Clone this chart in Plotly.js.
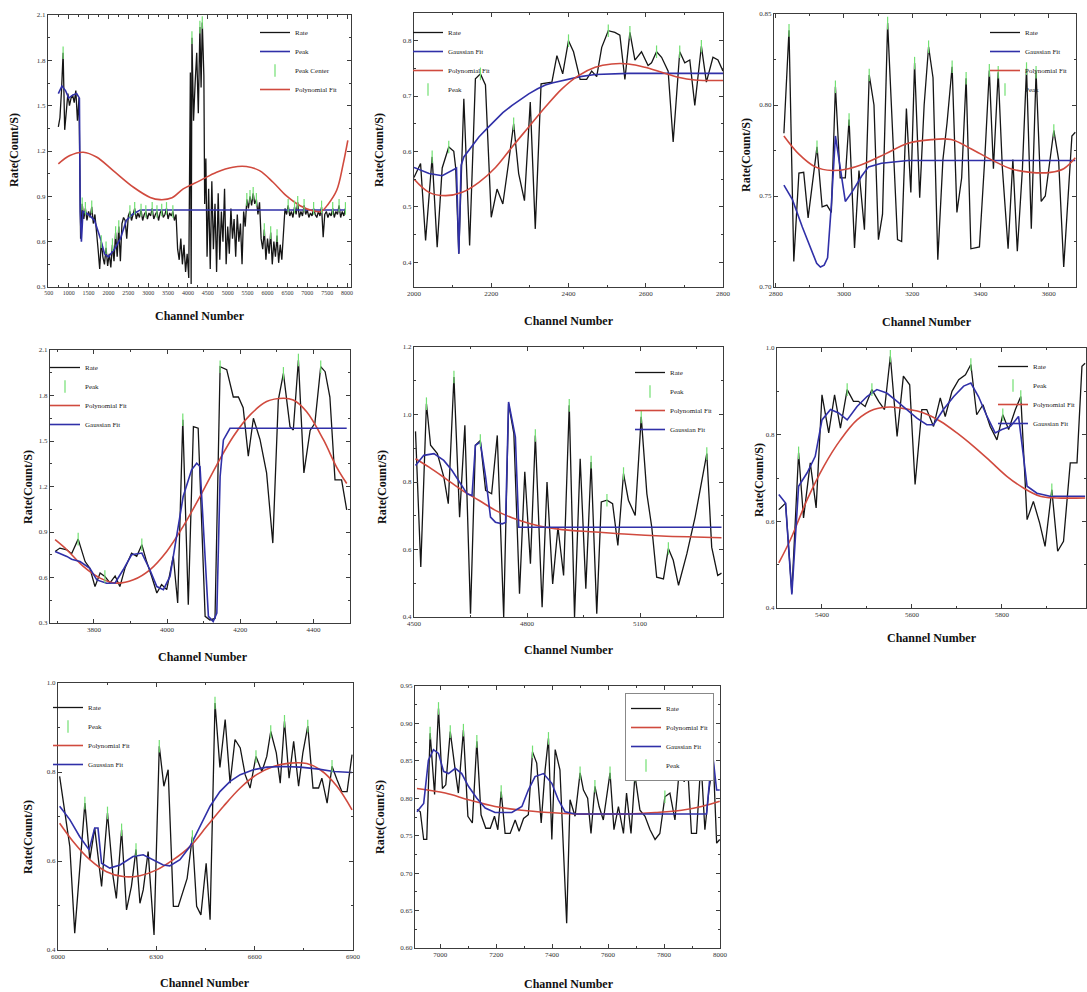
<!DOCTYPE html>
<html><head><meta charset="utf-8">
<script src="https://cdn.plot.ly/plotly-3.0.1.min.js"></script>
<style>html,body{margin:0;padding:0;background:#fff}#chart{width:1087px;height:992px}</style>
</head><body><div id="chart"></div>
<script>
// ---------- Panel 1 ----------
const p1Ch=[740,780,820,860,900,940,980,1020,1060,1100,
1140,1180,1220,1260,1300,1340,1380,1420,1460,1500,
1540,1580,1620,1660,1700,1740,1780,1820,1860,1900,
1940,1980,2020,2060,2100,2140,2180,2220,2260,2300,
2340,2380,2420,2460,2500,2540,2580,2620,2660,2700,
2740,2780,2820,2860,2900,2940,2980,3020,3060,3100,
3140,3180,3220,3260,3300,3340,3380,3420,3460,3500,
3540,3580,3620,3660,3700,3740,3780,3820,3860,3900,
3940,3980,4020,4060,4080,4100,4140,4180,4220,4260,
4300,4330,4360,4400,4420,4450,4480,4520,4560,4600,
4640,4680,4720,4760,4800,4840,4880,4920,4960,5000,
5040,5080,5120,5160,5200,5240,5280,5320,5360,5400,
5440,5480,5520,5560,5600,5640,5680,5720,5760,5800,
5840,5880,5920,5960,6000,6040,6080,6120,6160,6200,
6240,6280,6320,6360,6400,6440,6480,6520,6560,6600,
6640,6680,6720,6760,6800,6840,6880,6920,6960,7000,
7040,7080,7120,7160,7200,7240,7280,7320,7360,7400,
7440,7480,7520,7560,7600,7640,7680,7720,7760,7800,
7840,7880,7920,7960];
const p1Rate=[1.36,1.42,1.60,1.85,1.34,1.48,1.58,1.50,1.55,1.57,
1.52,1.60,1.40,1.55,0.62,0.85,0.75,0.82,0.74,0.80,
0.76,0.83,0.72,0.78,0.68,0.55,0.42,0.60,0.50,0.45,
0.56,0.44,0.52,0.43,0.58,0.47,0.66,0.50,0.70,0.47,
0.72,0.76,0.74,0.62,0.77,0.80,0.74,0.78,0.82,0.75,
0.79,0.76,0.81,0.74,0.78,0.80,0.75,0.79,0.77,0.82,
0.75,0.78,0.80,0.74,0.79,0.81,0.76,0.78,0.82,0.75,
0.79,0.77,0.80,0.74,0.78,0.55,0.48,0.62,0.45,0.58,
0.40,0.52,0.36,1.72,0.32,1.95,1.40,1.65,1.85,1.45,
2.02,1.62,2.05,1.70,0.85,1.15,0.50,0.95,0.42,1.00,
0.55,0.85,0.40,0.92,0.48,0.80,0.60,0.95,0.45,0.70,
0.52,0.82,0.62,0.75,0.50,0.78,0.60,0.72,0.45,0.80,
0.70,0.88,0.82,0.90,0.84,0.92,0.85,0.88,0.78,0.86,
0.62,0.55,0.68,0.48,0.62,0.52,0.66,0.45,0.60,0.50,
0.64,0.46,0.58,0.48,0.62,0.82,0.78,0.84,0.77,0.80,
0.76,0.83,0.78,0.86,0.76,0.80,0.77,0.84,0.78,0.81,
0.76,0.79,0.77,0.82,0.78,0.76,0.80,0.77,0.83,0.63,
0.78,0.80,0.76,0.79,0.77,0.82,0.76,0.80,0.78,0.84,
0.76,0.80,0.77,0.82];
const p1PeakLineCh=[740,830,920,1000,1100,1200,1270,1290,1320,1360,1500,1650,1800,1900,2000,2150,2300,2450,2600,2800,7960];
const p1PeakLine=[1.58,1.63,1.60,1.55,1.57,1.58,1.55,0.80,0.60,0.80,0.78,0.74,0.62,0.52,0.50,0.55,0.62,0.74,0.78,0.81,0.81];
const p1PolyCh=[740,1030,1370,1700,2120,2630,3050,3300,3600,3880,4300,4720,5130,5470,5800,6140,6470,6820,7140,7350,7530,7740,7900,8020];
const p1Poly=[1.115,1.17,1.192,1.16,1.07,0.96,0.893,0.878,0.89,0.949,1.004,1.06,1.093,1.097,1.07,0.993,0.904,0.838,0.805,0.80,0.85,0.94,1.11,1.27];
const p1CenterCh=[860,1340,1420,1580,1820,1940,2100,2180,2260,2540,2660,2820,2940,3100,3220,3340,3460,3620,4100,4300,4360,5480,5560,5640,5720,5920,6080,6240,6520,6680,6760,6920,7160,7360,7640,7800,7960];
const p1Center=[1.85,0.85,0.82,0.83,0.60,0.56,0.58,0.66,0.70,0.80,0.82,0.81,0.80,0.82,0.80,0.81,0.82,0.80,1.95,2.02,2.05,0.88,0.90,0.92,0.88,0.68,0.66,0.64,0.84,0.83,0.86,0.84,0.82,0.83,0.82,0.84,0.82];

// ---------- Panel 2 ----------
const p2Ch=[2000,2017,2030,2047,2060,2073,2090,2103,2108,2116,2129,2144,2159,2172,2185,2200,2215,2230,2245,2258,2271,2286,2301,2314,2329,2357,2370,2385,2400,2413,2430,2447,2460,2473,2486,2503,2520,2533,2546,2559,2572,2589,2606,2615,2628,2641,2658,2671,2688,2701,2714,2727,2744,2757,2774,2787,2800];
const p2Rate=[0.553,0.578,0.439,0.59,0.427,0.57,0.608,0.60,0.57,0.415,0.695,0.43,0.731,0.74,0.72,0.481,0.532,0.505,0.58,0.65,0.56,0.511,0.689,0.46,0.722,0.725,0.773,0.74,0.80,0.78,0.73,0.73,0.745,0.735,0.788,0.818,0.815,0.81,0.73,0.815,0.765,0.78,0.755,0.76,0.78,0.77,0.745,0.617,0.78,0.76,0.765,0.683,0.79,0.725,0.77,0.765,0.745];
const p2GaussCh=[2000,2039,2073,2103,2110,2116,2122,2129,2150,2168,2190,2211,2230,2254,2275,2297,2320,2340,2360,2400,2430,2469,2510,2555,2641,2800];
const p2Gauss=[0.571,0.56,0.556,0.568,0.57,0.415,0.575,0.59,0.61,0.626,0.642,0.656,0.67,0.683,0.694,0.704,0.713,0.72,0.724,0.731,0.735,0.739,0.74,0.741,0.741,0.741];
const p2PolyCh=[2000,2039,2082,2125,2168,2211,2254,2297,2340,2383,2426,2469,2512,2555,2598,2641,2684,2727,2800];
const p2Poly=[0.55,0.526,0.52,0.526,0.544,0.571,0.608,0.644,0.68,0.713,0.737,0.752,0.758,0.758,0.752,0.743,0.734,0.729,0.728];
const p2PeakCh=[2047,2090,2172,2258,2400,2503,2559,2628,2688,2744];
const p2Peak=[0.59,0.608,0.74,0.65,0.80,0.818,0.815,0.78,0.78,0.79];

// ---------- Panel 3 ----------
const p3Ch=[2824,2839,2853,2868,2882,2895,2921,2936,2950,2963,2975,2989,3004,3015,3031,3044,3060,3074,3088,3101,3113,3128,3157,3169,3183,3196,3207,3222,3235,3248,3261,3275,3290,3302,3317,3331,3345,3358,3372,3397,3413,3426,3438,3452,3464,3481,3495,3508,3523,3535,3549,3563,3578,3590,3615,3629,3644,3668,3678];
const p3Rate=[0.7845,0.841,0.714,0.7626,0.763,0.738,0.777,0.744,0.745,0.741,0.81,0.76,0.76,0.792,0.7214,0.764,0.7315,0.8165,0.80,0.726,0.74,0.845,0.726,0.725,0.798,0.752,0.823,0.749,0.80,0.832,0.815,0.715,0.77,0.79,0.821,0.741,0.76,0.8147,0.721,0.722,0.7717,0.819,0.765,0.818,0.766,0.721,0.77,0.7196,0.765,0.82,0.732,0.818,0.747,0.75,0.786,0.77,0.711,0.783,0.785];
const p3GaussCh=[2824,2849,2878,2900,2920,2931,2942,2952,2963,2975,2989,3004,3023,3052,3072,3110,3188,3678];
const p3Gauss=[0.756,0.748,0.733,0.722,0.713,0.711,0.712,0.716,0.745,0.783,0.765,0.747,0.752,0.761,0.766,0.768,0.7695,0.7695];
const p3PolyCh=[2824,2868,2916,2965,3013,3062,3120,3188,3256,3314,3372,3431,3489,3547,3605,3644,3678];
const p3Poly=[0.783,0.773,0.766,0.764,0.765,0.768,0.773,0.779,0.781,0.781,0.776,0.77,0.765,0.763,0.763,0.765,0.771];
const p3PeakCh=[2839,2921,2975,3015,3074,3128,3207,3248,3317,3358,3426,3452,3535,3563,3615];
const p3Peak=[0.841,0.777,0.81,0.792,0.8165,0.845,0.823,0.832,0.821,0.8147,0.819,0.818,0.82,0.818,0.786];

// ---------- Panel 4 ----------
const p4Ch=[3694,3707,3726,3739,3757,3776,3789,3803,3817,3830,3844,3858,3871,3885,3903,3917,3931,3944,3958,3972,3985,3999,4017,4029,4043,4058,4072,4085,4104,4117,4131,4145,4163,4181,4195,4208,4222,4236,4254,4272,4289,4304,4318,4336,4345,4359,4374,4391,4404,4420,4432,4445,4459,4477,4491];
const p4Rate=[0.772,0.794,0.783,0.757,0.853,0.705,0.66,0.54,0.63,0.607,0.564,0.61,0.54,0.662,0.76,0.74,0.816,0.705,0.607,0.498,0.553,0.52,0.74,0.432,1.64,0.42,1.595,1.584,0.344,0.32,0.33,1.99,1.97,1.79,1.79,1.72,1.40,1.65,1.51,1.29,0.827,1.77,1.946,1.595,1.573,2.034,1.29,1.57,1.617,1.99,1.957,1.79,1.244,1.244,1.046];
const p4GaussCh=[3694,3726,3739,3762,3789,3808,3835,3858,3880,3903,3931,3953,3972,3990,4008,4022,4044,4067,4081,4090,4104,4113,4126,4136,4145,4154,4172,4491];
const p4Gauss=[0.772,0.739,0.72,0.705,0.66,0.584,0.562,0.564,0.651,0.75,0.761,0.651,0.54,0.52,0.607,0.805,1.134,1.31,1.354,1.332,0.70,0.344,0.31,0.366,1.266,1.507,1.584,1.584];
const p4PolyCh=[3694,3726,3771,3817,3862,3908,3953,3999,4044,4090,4136,4181,4227,4272,4318,4345,4381,4427,4463,4491];
const p4Poly=[0.849,0.783,0.673,0.596,0.563,0.585,0.651,0.772,0.937,1.134,1.343,1.53,1.672,1.76,1.782,1.77,1.694,1.51,1.33,1.22];
const p4PeakCh=[3757,3830,3931,4043,4145,4318,4359,4420];
const p4Peak=[0.853,0.607,0.816,1.64,1.99,1.946,2.034,1.99];

// ---------- Panel 5 ----------
const p5Ch=[4504,4518,4533,4544,4562,4579,4591,4606,4621,4635,4650,4663,4676,4690,4706,4721,4738,4751,4765,4780,4794,4809,4822,4840,4853,4868,4882,4897,4912,4926,4941,4956,4970,4985,4997,5012,5027,5041,5056,5069,5087,5103,5118,5131,5144,5162,5175,5188,5202,5224,5246,5277,5290,5306,5316];
const p5Rate=[0.95,0.548,1.032,0.909,0.884,0.815,0.736,1.111,0.696,0.968,0.41,0.909,0.923,0.775,0.765,0.938,0.40,1.032,0.943,0.469,0.83,0.558,0.938,0.429,0.80,0.498,0.666,0.523,1.027,0.40,0.869,0.484,0.859,0.41,0.741,0.746,0.736,0.612,0.825,0.746,0.701,0.993,0.765,0.666,0.518,0.513,0.603,0.568,0.494,0.587,0.696,0.884,0.607,0.523,0.53];
const p5GaussCh=[4504,4526,4553,4579,4601,4624,4641,4654,4663,4676,4690,4703,4716,4734,4743,4751,4769,4778,4787,5316];
const p5Gauss=[0.849,0.879,0.884,0.864,0.834,0.795,0.765,0.76,0.909,0.918,0.815,0.696,0.681,0.676,0.68,1.037,0.933,0.666,0.666,0.666];
const p5PolyCh=[4504,4540,4584,4628,4672,4716,4760,4804,4849,4893,4981,5069,5157,5246,5316];
const p5Poly=[0.869,0.844,0.81,0.775,0.746,0.716,0.694,0.678,0.666,0.659,0.652,0.645,0.64,0.637,0.635];
const p5PeakCh=[4533,4606,4676,4822,4912,4970,5012,5056,5103,5175,5277];
const p5Peak=[1.032,1.111,0.923,0.938,1.027,0.859,0.746,0.825,0.993,0.603,0.884];

// ---------- Panel 6 ----------
const p6Ch=[5304,5311,5319,5333,5348,5359,5374,5387,5400,5415,5428,5441,5456,5470,5481,5496,5511,5526,5539,5552,5567,5581,5595,5607,5622,5633,5648,5663,5674,5689,5704,5719,5731,5744,5758,5774,5789,5802,5815,5830,5842,5856,5870,5884,5896,5911,5924,5937,5952,5967,5978,5985];
const p6Rate=[0.627,0.635,0.642,0.435,0.758,0.608,0.735,0.631,0.892,0.804,0.892,0.815,0.904,0.877,0.877,0.865,0.904,0.877,0.858,0.981,0.796,0.935,0.915,0.685,0.858,0.858,0.819,0.885,0.842,0.90,0.927,0.938,0.962,0.846,0.869,0.819,0.788,0.846,0.812,0.858,0.888,0.604,0.646,0.596,0.542,0.673,0.531,0.554,0.735,0.735,0.958,0.965];
const p6GaussCh=[5304,5319,5333,5348,5367,5385,5400,5419,5437,5456,5478,5500,5522,5544,5567,5589,5611,5633,5648,5670,5693,5715,5731,5748,5767,5785,5800,5819,5837,5848,5856,5878,5907,5985];
const p6Gauss=[0.662,0.642,0.431,0.681,0.712,0.75,0.834,0.858,0.85,0.834,0.865,0.888,0.904,0.896,0.877,0.858,0.838,0.823,0.823,0.858,0.888,0.912,0.919,0.888,0.842,0.804,0.812,0.819,0.842,0.75,0.681,0.665,0.658,0.658];
const p6PolyCh=[5304,5330,5367,5404,5441,5478,5515,5552,5589,5626,5663,5700,5737,5774,5811,5848,5885,5922,5985];
const p6Poly=[0.504,0.558,0.65,0.727,0.788,0.834,0.858,0.864,0.859,0.85,0.831,0.804,0.773,0.739,0.704,0.677,0.658,0.654,0.654];
const p6PeakCh=[5348,5456,5511,5552,5731,5802,5842,5911];
const p6Peak=[0.758,0.904,0.904,0.981,0.962,0.846,0.888,0.673];

// ---------- Panel 7 ----------
const p7Ch=[6005,6020,6036,6051,6066,6082,6097,6112,6133,6151,6168,6178,6194,6209,6224,6238,6250,6260,6275,6293,6309,6323,6336,6352,6367,6382,6394,6410,6423,6436,6452,6464,6479,6494,6510,6525,6540,6556,6571,6586,6604,6622,6637,6649,6666,6678,6691,6705,6719,6734,6747,6762,6778,6795,6805,6821,6836,6851,6866,6882,6897];
const p7Rate=[0.79,0.715,0.633,0.438,0.573,0.73,0.603,0.674,0.543,0.708,0.565,0.516,0.67,0.49,0.543,0.626,0.505,0.535,0.621,0.434,0.858,0.768,0.805,0.498,0.498,0.535,0.561,0.655,0.498,0.479,0.595,0.468,0.955,0.81,0.918,0.775,0.873,0.854,0.794,0.764,0.835,0.801,0.835,0.891,0.843,0.775,0.914,0.786,0.869,0.768,0.843,0.903,0.764,0.764,0.786,0.73,0.813,0.783,0.756,0.756,0.839];
const p7GaussCh=[6005,6036,6066,6095,6112,6122,6133,6158,6189,6229,6260,6291,6321,6341,6372,6403,6433,6464,6494,6525,6556,6596,6637,6688,6739,6790,6841,6897];
const p7Gauss=[0.723,0.693,0.655,0.625,0.674,0.674,0.595,0.584,0.591,0.61,0.614,0.603,0.591,0.589,0.603,0.633,0.678,0.723,0.756,0.779,0.794,0.805,0.811,0.8125,0.811,0.807,0.801,0.799];
const p7PolyCh=[6005,6046,6097,6148,6199,6250,6301,6352,6403,6454,6505,6556,6606,6657,6708,6759,6800,6851,6897];
const p7Poly=[0.685,0.644,0.603,0.576,0.565,0.567,0.58,0.603,0.633,0.678,0.723,0.764,0.794,0.8125,0.82,0.819,0.805,0.768,0.715];
const p7PeakCh=[6082,6151,6194,6238,6309,6410,6479,6604,6649,6691,6762,6836];
const p7Peak=[0.73,0.708,0.67,0.626,0.858,0.655,0.955,0.835,0.891,0.914,0.903,0.813];

// ---------- Panel 8 ----------
const p8Ch=[6917,6929,6941,6952,6964,6980,6994,7008,7020,7036,7056,7065,7083,7099,7115,7131,7146,7163,7179,7194,7206,7218,7232,7250,7268,7282,7298,7315,7330,7345,7361,7375,7387,7399,7411,7428,7452,7464,7482,7500,7512,7527,7539,7553,7568,7583,7607,7621,7637,7655,7666,7682,7696,7714,7732,7750,7768,7785,7803,7821,7839,7857,7872,7884,7898,7916,7932,7946,7960,7976,7988,7999];
const p8Rate=[0.785,0.782,0.745,0.745,0.887,0.805,0.92,0.813,0.818,0.889,0.831,0.807,0.891,0.776,0.767,0.876,0.778,0.76,0.76,0.776,0.758,0.809,0.753,0.753,0.771,0.756,0.773,0.778,0.862,0.847,0.767,0.838,0.88,0.745,0.865,0.838,0.633,0.798,0.776,0.834,0.811,0.80,0.753,0.816,0.789,0.771,0.834,0.758,0.789,0.753,0.807,0.753,0.831,0.784,0.776,0.758,0.745,0.753,0.802,0.807,0.771,0.849,0.822,0.845,0.753,0.753,0.851,0.758,0.809,0.851,0.74,0.745];
const p8GaussCh=[6917,6941,6958,6976,6994,7012,7030,7054,7077,7101,7131,7161,7196,7256,7292,7315,7339,7369,7399,7422,7446,7482,7553,7952,7964,7976,7988,7999];
const p8Gauss=[0.782,0.793,0.851,0.865,0.86,0.836,0.833,0.84,0.833,0.816,0.80,0.787,0.781,0.781,0.789,0.811,0.829,0.833,0.82,0.798,0.782,0.779,0.779,0.779,0.829,0.851,0.811,0.811];
const p8PolyCh=[6917,7018,7101,7196,7292,7387,7482,7577,7672,7768,7863,7934,7999];
const p8Poly=[0.813,0.807,0.798,0.789,0.784,0.781,0.779,0.779,0.779,0.781,0.784,0.789,0.796];
const p8PeakCh=[6964,6994,7036,7083,7131,7218,7330,7387,7500,7553,7607,7696,7803,7857,7932];
const p8Peak=[0.887,0.92,0.889,0.891,0.876,0.809,0.862,0.88,0.834,0.816,0.834,0.831,0.802,0.849,0.851];

// ---------- labels ----------
const yTitle='Rate(Count/S)';
const xTitle='Channel Number';

// ---------- layout config ----------
const W=1087,H=992;
const FONT='"Liberation Serif","Times New Roman",serif';
const COL={rate:'#151515',gauss:'#3030a8',poly:'#d04a3e',peak:'#72e072'};

function S(name,x,y,kind,rank,shape){return {name,x,y,kind,rank,shape:shape||'linear'};}

const panels=[
 {box:[48,351,15,287],xr:[480,8100],xt0:500,xdt:500,xmin:250,yr:[0.3,2.1],yt0:0.3,ydt:0.3,ymin:0.15,yfmt:'.1f',xfs:6,
  yt:[14,150],xt:[200,316],leg:[255,18],
  series:[S('Rate',p1Ch,p1Rate,'rate',1),S('Peak',p1PeakLineCh,p1PeakLine,'gauss',2),S('Polynomial Fit',p1PolyCh,p1Poly,'poly',4,'spline'),S('Peak Center',p1CenterCh,p1Center,'peak',3)]},
 {box:[414,723,13,287],xr:[2000,2800],xt0:2000,xdt:200,xmin:100,yr:[0.355,0.85],yt0:0.4,ydt:0.1,ymin:0.05,yfmt:'.1f',xfs:7,
  yt:[379,150],xt:[569,321],leg:[408,18],
  series:[S('Rate',p2Ch,p2Rate,'rate',1),S('Gaussian Fit',p2GaussCh,p2Gauss,'gauss',2),S('Polynomial Fit',p2PolyCh,p2Poly,'poly',3,'spline'),S('Peak',p2PeakCh,p2Peak,'peak',4)]},
 {box:[774,1076,14,287],xr:[2795,3680],xt0:2800,xdt:200,xmin:100,yr:[0.70,0.85],yt0:0.70,ydt:0.05,ymin:0.025,yfmt:'.2f',xfs:7,
  yt:[746,155],xt:[927,322],leg:[985,18],
  series:[S('Rate',p3Ch,p3Rate,'rate',1),S('Gaussian Fit',p3GaussCh,p3Gauss,'gauss',2),S('Polynomial Fit',p3PolyCh,p3Poly,'poly',3,'spline'),S('Peak',p3PeakCh,p3Peak,'peak',4)]},
 {box:[50,350,350,623],xr:[3680,4500],xt0:3800,xdt:200,xmin:100,yr:[0.3,2.1],yt0:0.3,ydt:0.3,ymin:0.15,yfmt:'.1f',xfs:7,
  yt:[28,487],xt:[203,657],leg:[45,353],
  series:[S('Rate',p4Ch,p4Rate,'rate',1),S('Polynomial Fit',p4PolyCh,p4Poly,'poly',3,'spline'),S('Gaussian Fit',p4GaussCh,p4Gauss,'gauss',4),S('Peak',p4PeakCh,p4Peak,'peak',2)]},
 {box:[414,723,347,617],xr:[4500,5320],xt0:4500,xdt:300,xmin:150,yr:[0.4,1.2],yt0:0.4,ydt:0.2,ymin:0.1,yfmt:'.1f',xfs:7,
  yt:[382,487],xt:[569,650],leg:[630,358],
  series:[S('Rate',p5Ch,p5Rate,'rate',1),S('Polynomial Fit',p5PolyCh,p5Poly,'poly',3,'spline'),S('Gaussian Fit',p5GaussCh,p5Gauss,'gauss',4),S('Peak',p5PeakCh,p5Peak,'peak',2)]},
 {box:[777,1086,348,608],xr:[5300,5987],xt0:5400,xdt:200,xmin:100,yr:[0.4,1.0],yt0:0.4,ydt:0.2,ymin:0.1,yfmt:'.1f',xfs:7,
  yt:[759,480],xt:[932,638],leg:[993,352],
  series:[S('Rate',p6Ch,p6Rate,'rate',1),S('Polynomial Fit',p6PolyCh,p6Poly,'poly',3,'spline'),S('Gaussian Fit',p6GaussCh,p6Gauss,'gauss',4),S('Peak',p6PeakCh,p6Peak,'peak',2)]},
 {box:[58,353,683,950],xr:[6000,6900],xt0:6000,xdt:300,xmin:150,yr:[0.4,1.0],yt0:0.4,ydt:0.2,ymin:0.1,yfmt:'.1f',xfs:7,
  yt:[28,837],xt:[205,983],leg:[48,693],
  series:[S('Rate',p7Ch,p7Rate,'rate',1),S('Polynomial Fit',p7PolyCh,p7Poly,'poly',3,'spline'),S('Gaussian Fit',p7GaussCh,p7Gauss,'gauss',4),S('Peak',p7PeakCh,p7Peak,'peak',2)]},
 {box:[415,720,686,948],xr:[6910,8000],xt0:7000,xdt:200,xmin:100,yr:[0.60,0.95],yt0:0.60,ydt:0.05,ymin:0.025,yfmt:'.2f',xfs:7,
  yt:[380,817],xt:[569,984],leg:[625,693],border:true,
  series:[S('Rate',p8Ch,p8Rate,'rate',1),S('Polynomial Fit',p8PolyCh,p8Poly,'poly',2,'spline'),S('Gaussian Fit',p8GaussCh,p8Gauss,'gauss',3),S('Peak',p8PeakCh,p8Peak,'peak',4)]}
];

const traces=[];
const layout={width:W,height:H,margin:{l:0,r:0,t:0,b:0},paper_bgcolor:'#fff',plot_bgcolor:'#fff',
  font:{family:FONT,color:'#222'},showlegend:true,annotations:[]};

panels.forEach((p,i)=>{
  const n=i+1, suf=(n===1?'':String(n));
  const xid='x'+suf, yid='y'+suf, legId='legend'+suf;
  const [l,r,t,b]=p.box;
  const base={showline:true,linecolor:'#3c3c3c',linewidth:1,mirror:'ticks',ticks:'inside',ticklen:4,
    tickcolor:'#3c3c3c',showgrid:false,zeroline:false,tickangle:0,fixedrange:true};
  layout['xaxis'+suf]=Object.assign({},base,{domain:[l/W,r/W],anchor:yid,range:p.xr,tick0:p.xt0,dtick:p.xdt,
    tickfont:{family:FONT,size:p.xfs,color:'#333'},
    minor:{dtick:p.xmin,ticks:'inside',ticklen:2,tickcolor:'#3c3c3c'}});
  layout['yaxis'+suf]=Object.assign({},base,{domain:[1-b/H,1-t/H],anchor:xid,range:p.yr,tick0:p.yt0,dtick:p.ydt,
    tickformat:p.yfmt,tickfont:{family:FONT,size:7,color:'#333'},
    minor:{dtick:p.ymin,ticks:'inside',ticklen:2,tickcolor:'#3c3c3c'}});
  layout[legId]={x:p.leg[0]/W,y:1-p.leg[1]/H,xanchor:'left',yanchor:'top',
    bgcolor:p.border?'#fff':'rgba(0,0,0,0)',bordercolor:'#888',borderwidth:p.border?1:0,
    font:{family:FONT,size:7,color:'#222'},itemwidth:30,tracegroupgap:0,traceorder:'normal'};
  layout.annotations.push({xref:'paper',yref:'paper',x:p.yt[0]/W,y:1-p.yt[1]/H,text:'<b>'+yTitle+'</b>',
    textangle:-90,showarrow:false,font:{family:FONT,size:12,color:'#111'},xanchor:'center',yanchor:'middle'});
  layout.annotations.push({xref:'paper',yref:'paper',x:p.xt[0]/W,y:1-p.xt[1]/H,text:'<b>'+xTitle+'</b>',
    showarrow:false,font:{family:FONT,size:12,color:'#111'},xanchor:'center',yanchor:'middle'});
  p.series.forEach(s=>{
    const tr={x:s.x,y:s.y,name:s.name,xaxis:xid,yaxis:yid,legend:legId,legendrank:s.rank,hoverinfo:'skip'};
    if(s.kind==='peak'){
      tr.type='scatter';tr.mode='markers';
      tr.marker={symbol:'line-ns',size:9,line:{color:COL.peak,width:1.2},color:COL.peak};
    }else{
      tr.type='scatter';tr.mode='lines';
      const w=s.kind==='rate'?1.3:1.6;
      tr.line={color:COL[s.kind],width:w,shape:s.shape};
    }
    traces.push(tr);
  });
});

Plotly.newPlot('chart',traces,layout,{staticPlot:true,displayModeBar:false});
</script>
</body></html>
